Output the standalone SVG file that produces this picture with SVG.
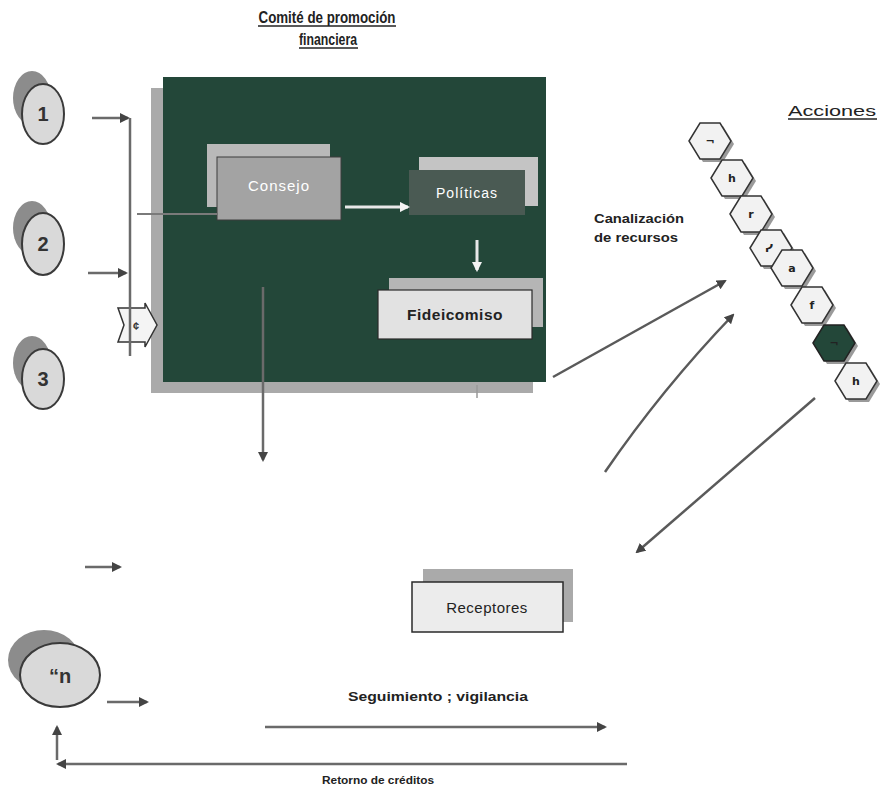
<svg xmlns="http://www.w3.org/2000/svg" width="880" height="789" viewBox="0 0 880 789">
<defs>
<style>
.t{font-family:"Liberation Sans",Arial,sans-serif}
.b{font-weight:bold}
.ln{fill:none;stroke:#6a6a6a;stroke-width:2.5}
.dg{fill:none;stroke:#5a5a5a;stroke-width:2.5}
.hx{fill:#f2f2f2;stroke:#333;stroke-width:1.5}
.hs{fill:#9a9a9a}
.cf{fill:#d9d9d9;stroke:#3a3a3a;stroke-width:2}
.cs{fill:#8c8c8c}
.num{font-family:"Liberation Sans",Arial,sans-serif;font-weight:bold;font-size:20px;fill:#333;text-anchor:middle}
.hg{font-family:"DejaVu Sans",sans-serif;font-weight:bold;font-size:11px;fill:#222;text-anchor:middle}
</style>
<marker id="ah" viewBox="0 0 10 10" refX="8" refY="5" markerWidth="4" markerHeight="4" orient="auto" markerUnits="strokeWidth">
<path d="M0,0 L10,5 L0,10 z" fill="#444"/>
</marker>
<marker id="ahw" viewBox="0 0 10 10" refX="8" refY="5" markerWidth="3.5" markerHeight="3.5" orient="auto" markerUnits="strokeWidth">
<path d="M0,0 L10,5 L0,10 z" fill="#f4f4f4"/>
</marker>
</defs>
<rect width="880" height="789" fill="#ffffff"/>

<!-- Title -->
<g id="title">
<text class="t b" x="327" y="23" font-size="16" text-anchor="middle" textLength="137" lengthAdjust="spacingAndGlyphs" fill="#222">Comité de promoción</text>
<line x1="258" y1="26" x2="396" y2="26" stroke="#222" stroke-width="1.4"/>
<text class="t b" x="328" y="45" font-size="16" text-anchor="middle" textLength="58" lengthAdjust="spacingAndGlyphs" fill="#222">financiera</text>
<line x1="299" y1="48" x2="358" y2="48" stroke="#222" stroke-width="1.4"/>
</g>

<!-- Committee panel -->
<g id="comite">
<rect x="151" y="88" width="382" height="305" fill="#aaaaaa"/>
<rect x="163" y="77" width="383" height="305" fill="#234739"/>
</g>

<g id="consejo">
<rect x="207" y="144" width="123" height="63" fill="#b9b9b9"/>
<rect x="217" y="157" width="124" height="63" fill="#a3a3a3" stroke="#3c3c3c" stroke-width="1"/>
<text class="t" x="279" y="191" font-size="15" fill="#ffffff" text-anchor="middle" letter-spacing="1">Consejo</text>
</g>

<g id="politicas">
<rect x="419" y="157" width="119" height="49" fill="#c4c4c4"/>
<rect x="409" y="170" width="116" height="45" fill="#4a5a53"/>
<text class="t" x="467" y="198" font-size="14" fill="#ffffff" text-anchor="middle" letter-spacing="1">Políticas</text>
</g>

<g id="fideicomiso">
<rect x="389" y="278" width="154" height="49" fill="#b5b5b5"/>
<rect x="378" y="290" width="154" height="49" fill="#e2e2e2" stroke="#2a2a2a" stroke-width="1.2"/>
<text class="t b" x="455" y="320" font-size="15.5" fill="#222" text-anchor="middle" letter-spacing="0.5">Fideicomiso</text>
</g>

<!-- Circles -->
<g id="c1">
<ellipse class="cs" cx="32" cy="98" rx="19" ry="27"/>
<ellipse class="cf" cx="43" cy="114" rx="21" ry="30"/>
<text class="num" x="43" y="121">1</text>
</g>
<g id="c2">
<ellipse class="cs" cx="32" cy="228" rx="19" ry="27"/>
<ellipse class="cf" cx="43" cy="244" rx="21" ry="31"/>
<text class="num" x="43" y="251">2</text>
</g>
<g id="c3">
<ellipse class="cs" cx="32" cy="363" rx="19" ry="27"/>
<ellipse class="cf" cx="43" cy="379" rx="21" ry="30"/>
<text class="num" x="43" y="386">3</text>
</g>
<g id="cn">
<ellipse class="cs" cx="44" cy="660" rx="36" ry="30"/>
<ellipse class="cf" cx="60" cy="675" rx="40" ry="32"/>
<text class="num" x="60" y="683" font-size="22">“n</text>
</g>

<!-- Money arrow -->
<g id="dinero">
<path d="M118,308 L145,308 L145,303 L157,325 L145,347 L145,342 L118,342 L124,325 Z" fill="#f4f4f4" stroke="#333" stroke-width="1.5"/>
<text class="t b" x="136" y="330" font-size="11" fill="#333" text-anchor="middle">¢</text>
</g>

<!-- Acciones -->
<g id="acciones">
<text class="t" x="832" y="116" font-size="14" fill="#222" text-anchor="middle" textLength="88" lengthAdjust="spacingAndGlyphs">Acciones</text>
<line x1="788" y1="119" x2="877" y2="119" stroke="#222" stroke-width="1.3"/>
</g>

<g id="hexagons">
<g id="h1"><polygon class="hs" points="692,144 703,126 723,126 734,144 723,162 703,162"/><polygon class="hx" points="689,141 700,123 720,123 731,141 720,159 700,159"/><text class="hg" x="710" y="145">¬</text></g>
<g id="h2"><polygon class="hs" points="714,181 725,163 745,163 756,181 745,199 725,199"/><polygon class="hx" points="711,178 722,160 742,160 753,178 742,196 722,196"/><text class="hg" x="732" y="182">h</text></g>
<g id="h3"><polygon class="hs" points="733,217 744,199 764,199 775,217 764,235 744,235"/><polygon class="hx" points="730,214 741,196 761,196 772,214 761,232 741,232"/><text class="hg" x="751" y="218">r</text></g>
<g id="h4"><polygon class="hs" points="753,251 764,233 784,233 795,251 784,269 764,269"/><polygon class="hx" points="750,248 761,230 781,230 792,248 781,266 761,266"/><text class="hg" x="769" y="252">ᓯ</text></g>
<g id="h5"><polygon class="hs" points="774,271 785,253 805,253 816,271 805,289 785,289"/><polygon class="hx" points="771,268 782,250 802,250 813,268 802,286 782,286"/><text class="hg" x="792" y="272">a</text></g>
<g id="h6"><polygon class="hs" points="794,308 805,290 825,290 836,308 825,326 805,326"/><polygon class="hx" points="791,305 802,287 822,287 833,305 822,323 802,323"/><text class="hg" x="812" y="309">f</text></g>
<g id="h7"><polygon class="hs" points="816,346 827,328 847,328 858,346 847,364 827,364"/><polygon points="813,343 824,325 844,325 855,343 844,361 824,361" fill="#234739" stroke="#222" stroke-width="1.5"/><text class="hg" x="834" y="347" fill="#ffffff">¬</text></g>
<g id="h8"><polygon class="hs" points="838,384 849,366 869,366 880,384 869,402 849,402"/><polygon class="hx" points="835,381 846,363 866,363 877,381 866,399 846,399"/><text class="hg" x="856" y="385">h</text></g>
</g>

<g id="canalizacion">
<text class="t b" x="639" y="223" font-size="12.5" fill="#222" text-anchor="middle" textLength="90" lengthAdjust="spacingAndGlyphs">Canalización</text>
<text class="t b" x="636" y="242" font-size="12.5" fill="#222" text-anchor="middle" textLength="84" lengthAdjust="spacingAndGlyphs">de recursos</text>
</g>

<g id="receptores">
<rect x="423" y="569" width="150" height="53" fill="#aaaaaa"/>
<rect x="412" y="582" width="151" height="50" fill="#ececec" stroke="#2a2a2a" stroke-width="1.5"/>
<text class="t" x="487" y="613" font-size="15" fill="#222" text-anchor="middle" letter-spacing="0.5">Receptores</text>
</g>

<g id="labels">
<text class="t b" x="438" y="701" font-size="12" fill="#222" text-anchor="middle" textLength="180" lengthAdjust="spacingAndGlyphs">Seguimiento ; vigilancia</text>
<text class="t b" x="378" y="784" font-size="11" fill="#222" text-anchor="middle" textLength="112" lengthAdjust="spacingAndGlyphs">Retorno de créditos</text>
</g>

<!-- Connectors -->
<g id="connectors">
<line class="ln" x1="92" y1="118" x2="128" y2="118" marker-end="url(#ah)"/>
<line class="ln" x1="88" y1="273" x2="126" y2="273" marker-end="url(#ah)"/>
<line class="ln" x1="130" y1="118" x2="130" y2="356"/>
<line x1="137" y1="214" x2="217" y2="214" stroke="#7a7a7a" stroke-width="2"/>
<line x1="345" y1="207" x2="408" y2="207" stroke="#e8e8e8" stroke-width="3" marker-end="url(#ahw)"/>
<line x1="477" y1="240" x2="477" y2="270" stroke="#e8e8e8" stroke-width="3" marker-end="url(#ahw)"/>
<line class="ln" x1="263" y1="287" x2="263" y2="460" marker-end="url(#ah)"/>
<line x1="477" y1="385" x2="477" y2="398" stroke="#999" stroke-width="1.5"/>
<line class="dg" x1="553" y1="377" x2="725" y2="281" marker-end="url(#ah)"/>
<path class="dg" d="M605,472 Q662,389 733,315" marker-end="url(#ah)"/>
<line class="dg" x1="815" y1="398" x2="637" y2="552" marker-end="url(#ah)"/>
<line class="ln" x1="85" y1="567" x2="120" y2="567" marker-end="url(#ah)"/>
<line class="ln" x1="107" y1="702" x2="147" y2="702" marker-end="url(#ah)"/>
<line class="ln" x1="265" y1="727" x2="605" y2="727" marker-end="url(#ah)"/>
<line class="ln" x1="627" y1="764" x2="58" y2="764" marker-end="url(#ah)"/>
<line class="ln" x1="57" y1="760" x2="57" y2="727" marker-end="url(#ah)"/>
</g>
</svg>
